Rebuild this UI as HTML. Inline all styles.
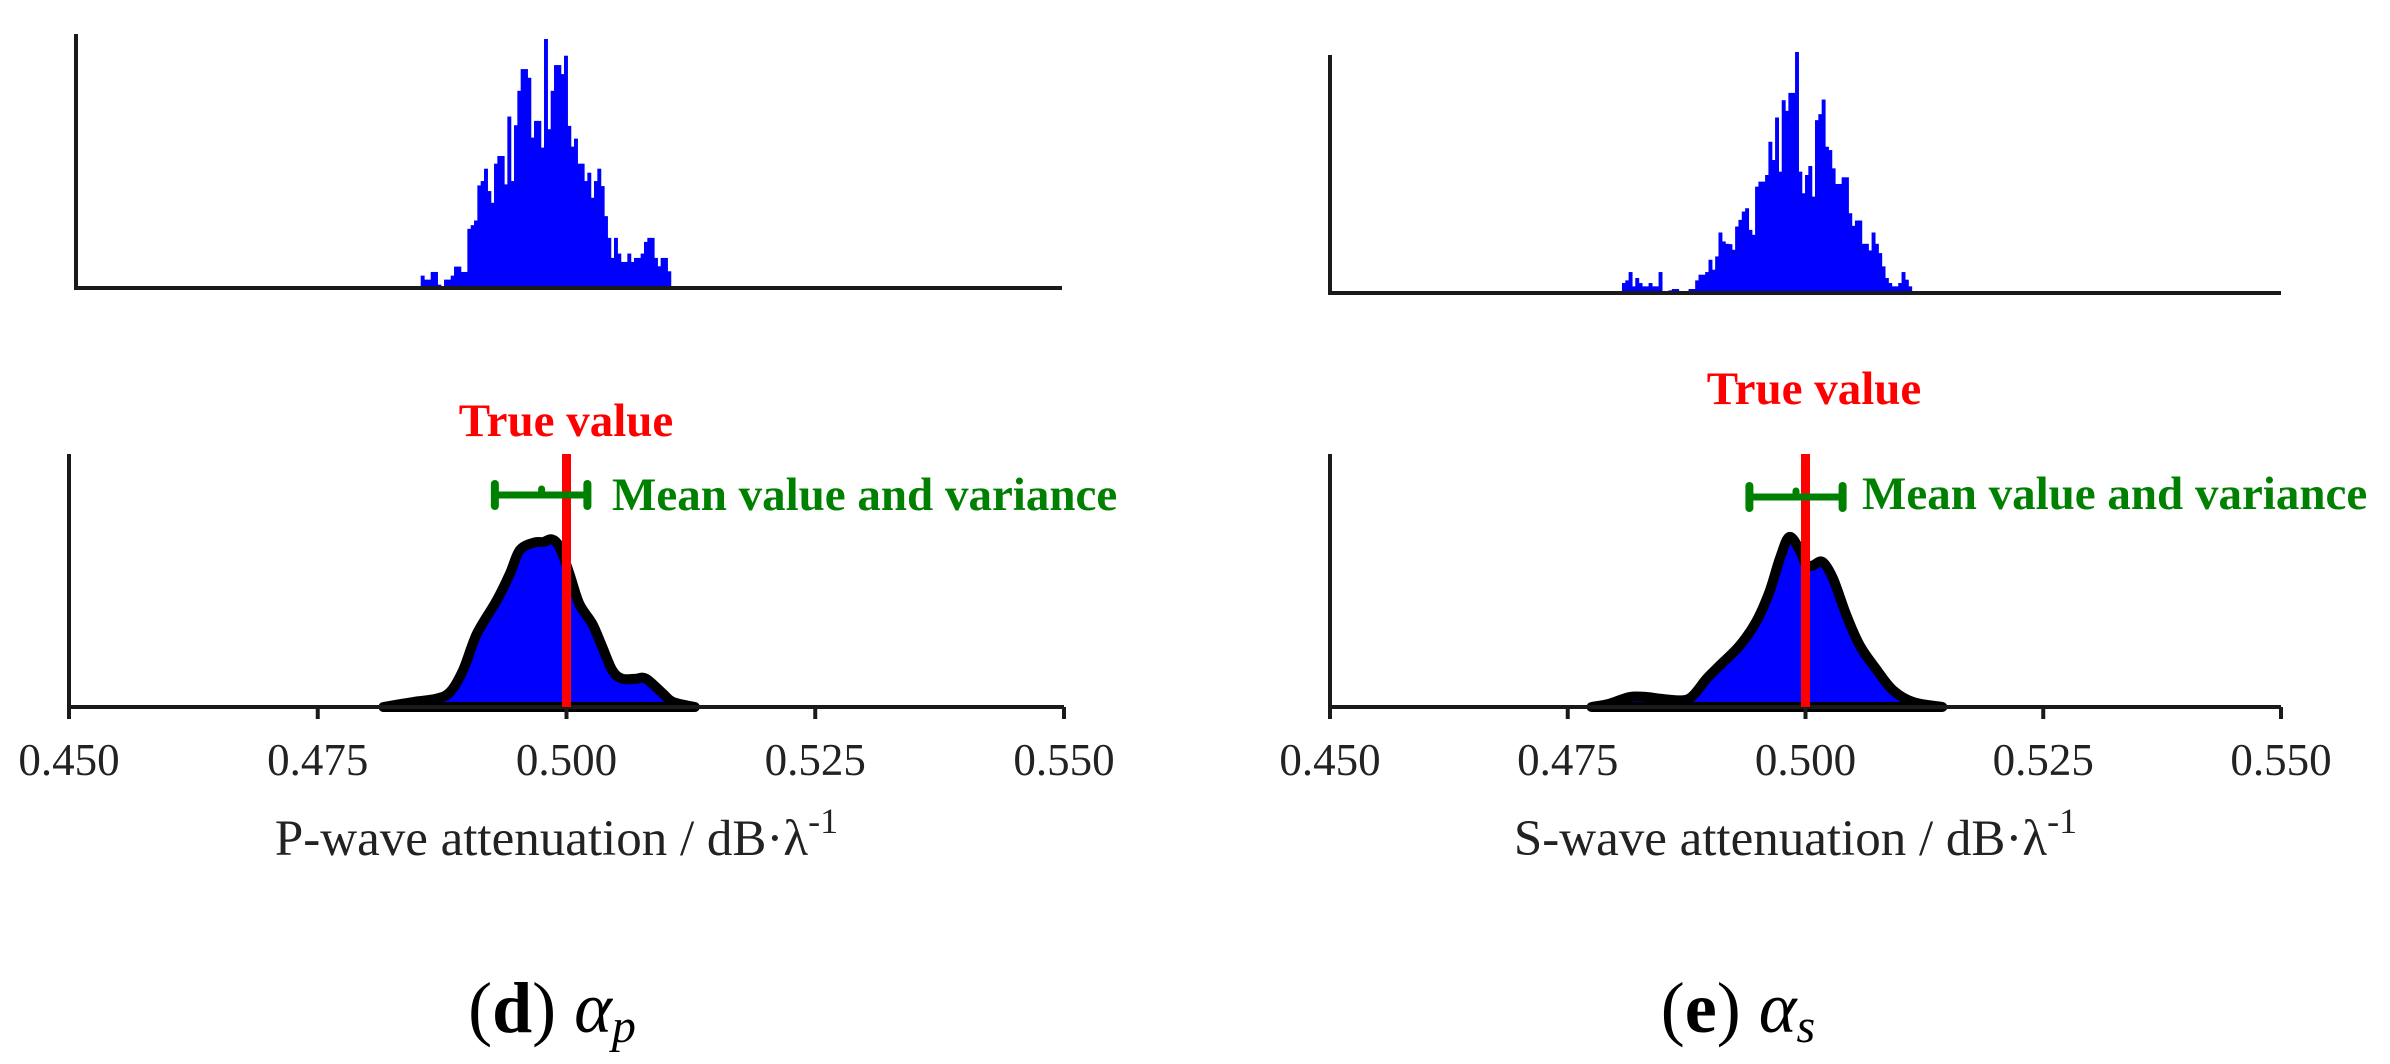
<!DOCTYPE html>
<html><head><meta charset="utf-8"><style>
html,body{margin:0;padding:0;background:#fff;}
svg{display:block;}
text{font-family:"Liberation Serif",serif;}
</style></head>
<body>
<svg id="fig" width="2390" height="1064" viewBox="0 0 2390 1064" xmlns="http://www.w3.org/2000/svg"></svg>
<script>
// ---- data ----
const xTicks = [0.450, 0.475, 0.500, 0.525, 0.550];
const xTickLabels = ["0.450", "0.475", "0.500", "0.525", "0.550"];
const histPStart = 0.48496;
const histPBinWidth = 0.000338;
const histPCounts = [37,25,25,48,48,10,3,25,25,37,64,64,48,48,177,188,202,307,320,357,290,255,372,395,395,310,513,320,487,590,655,655,629,450,500,500,420,745,475,590,667,667,640,695,485,423,447,372,372,320,345,270,320,357,305,215,150,90,150,103,78,78,103,78,90,90,103,138,150,150,90,65,90,90,50];
const histSStart = 0.4807;
const histSBinWidth = 0.00035;
const histSCounts = [30,38,63,20,45,30,20,20,30,20,20,63,5,5,8,12,12,5,5,5,12,12,38,55,55,63,100,70,110,182,155,148,147,130,200,220,245,255,190,175,320,335,335,355,455,400,528,365,580,548,602,602,725,365,300,355,382,290,520,538,582,440,430,375,328,328,348,348,240,202,218,218,148,148,128,182,148,120,80,45,30,20,20,30,63,40,20];
const densPX = [0.4816,0.4846,0.4869,0.4883,0.4896,0.4910,0.4930,0.4943,0.4953,0.4967,0.4977,0.4985,0.4993,0.5003,0.5013,0.5026,0.5036,0.5046,0.5056,0.5070,0.5080,0.5097,0.5107,0.5129];
const densPY = [0,5,8.3,15,36.7,73.3,106.7,133,156.7,164.3,165,167.7,160,133,103,83,60,36.7,28.3,28.3,28.3,13.3,5,0];
const densSX = [0.4775,0.4794,0.4815,0.4833,0.4847,0.4871,0.4882,0.4896,0.4910,0.4931,0.4948,0.4962,0.4973,0.4983,0.4994,0.5001,0.5008,0.5018,0.5029,0.5043,0.5057,0.5074,0.5092,0.5113,0.5144];
const densSY = [0,3.3,10,10,8.3,6.7,11.7,28.3,41.7,61.7,85,115,148.3,170,156.7,141.7,141.7,145,128.3,91.7,61.7,38.3,16.7,5,0];
const trueValues = [0.500, 0.500];
const meanValues = [0.4975, 0.4990];
const errLow = [0.4928, 0.4941];
const errHigh = [0.5021, 0.5039];

// ---- drawing ----
const NS = "http://www.w3.org/2000/svg";
const svg = document.getElementById("fig");
function mk(tag, attrs, parent) {
  const e = document.createElementNS(NS, tag);
  for (const k in attrs) e.setAttribute(k, attrs[k]);
  (parent || svg).appendChild(e);
  return e;
}
function linScale(d0, d1, r0, r1) { return v => r0 + (v - d0) / (d1 - d0) * (r1 - r0); }

function smoothPath(pts) {
  let d = "M" + pts[0][0].toFixed(1) + " " + pts[0][1].toFixed(1);
  for (let i = 0; i < pts.length - 1; i++) {
    const p0 = pts[Math.max(0, i - 1)], p1 = pts[i], p2 = pts[i + 1], p3 = pts[Math.min(pts.length - 1, i + 2)];
    const c1x = p1[0] + (p2[0] - p0[0]) / 6, c1y = p1[1] + (p2[1] - p0[1]) / 6;
    const c2x = p2[0] - (p3[0] - p1[0]) / 6, c2y = p2[1] - (p3[1] - p1[1]) / 6;
    d += " C" + c1x.toFixed(1) + " " + c1y.toFixed(1) + " " + c2x.toFixed(1) + " " + c2y.toFixed(1) + " " + p2[0].toFixed(1) + " " + p2[1].toFixed(1);
  }
  return d;
}

function drawHist(g, L, R, T, B, yMax, start, w, counts, name) {
  const sx = linScale(0.45, 0.55, L, R);
  const sy = linScale(0, yMax, B, T);
  counts.forEach((c, i) => {
    const x0 = sx(start + i * w), x1 = sx(start + (i + 1) * w);
    const r = mk("rect", {x: x0, y: sy(c), width: x1 - x0 + 0.6, height: B - sy(c), fill: "#0000ff"}, g);
    
    
  });
  const ya = mk("line", {x1: L, y1: T, x2: L, y2: B + 2, stroke: "#1a1a1a", "stroke-width": 4}, g);
  
  
  const xa = mk("line", {x1: L, y1: B, x2: R, y2: B, stroke: "#1a1a1a", "stroke-width": 4}, g);
  
  
}

function drawDensity(g, L, R, T, B, xs, ys, tv, mv, lo, hi, ev, tvText, legX, legY, tvTx, tvTy, xTitle, capText, capSub, capX, name) {
  const sx = linScale(0.45, 0.55, L, R);
  const sy = linScale(0, 253, B, T);
  const pts = xs.map((x, i) => [sx(x), sy(ys[i])]);
  const area = mk("path", {d: smoothPath(pts) + " Z", fill: "#0000ff", stroke: "#000", "stroke-width": 10, "stroke-linejoin": "round", "stroke-linecap": "round"}, g);
  
  
  const ya = mk("line", {x1: L, y1: T, x2: L, y2: B + 12, stroke: "#1a1a1a", "stroke-width": 4}, g);
  
  
  const xa = mk("line", {x1: L, y1: B, x2: R, y2: B, stroke: "#1a1a1a", "stroke-width": 4}, g);
  
  
  xTicks.forEach((t, i) => {
    const tk = mk("line", {x1: sx(t), y1: B, x2: sx(t), y2: B + 12, stroke: "#1a1a1a", "stroke-width": 4}, g);
    
    
    const tl = mk("text", {x: sx(t), y: B + 68, "text-anchor": "middle", "font-size": 45, fill: "#222"}, g);
    tl.textContent = xTickLabels[i];
    
    
  });
  const tl = mk("line", {x1: sx(tv), y1: T, x2: sx(tv), y2: B, stroke: "#ff0000", "stroke-width": 9}, g);
  
  
  const tt = mk("text", {x: tvTx, y: tvTy, "text-anchor": "middle", "font-size": 47, "font-weight": "bold", fill: "#ff0000"}, g);
  tt.textContent = tvText;
  
  
  const eg = mk("g", {stroke: "#008000", "stroke-linecap": "round"}, g);
  
  
  mk("line", {x1: sx(lo), y1: ev, x2: sx(hi), y2: ev, "stroke-width": 7}, eg);
  mk("line", {x1: sx(lo), y1: ev - 11, x2: sx(lo), y2: ev + 11, "stroke-width": 8}, eg);
  mk("line", {x1: sx(hi), y1: ev - 11, x2: sx(hi), y2: ev + 11, "stroke-width": 8}, eg);
  mk("line", {x1: sx(mv), y1: ev - 6, x2: sx(mv), y2: ev, "stroke-width": 7}, eg);
  const lt = mk("text", {x: legX, y: legY, "font-size": 47, "font-weight": "bold", fill: "#008000"}, g);
  lt.textContent = "Mean value and variance";
  
  
  const xt = mk("text", {x: (L + R) / 2 - 10, y: B + 148, "text-anchor": "middle", "font-size": 51, fill: "#222"}, g);
  
  
  xt.appendChild(document.createTextNode(xTitle));
  const sup = mk("tspan", {dy: -22, "font-size": 36}, xt);
  sup.textContent = "-1";
  const cap = mk("text", {x: capX, y: 1032, "text-anchor": "middle", "font-size": 72, fill: "#000"}, g);
  
  
  cap.appendChild(document.createTextNode("("));
  const b = mk("tspan", {"font-weight": "bold"}, cap); b.textContent = capText;
  cap.appendChild(document.createTextNode(") "));
  const a = mk("tspan", {"font-style": "italic"}, cap); a.textContent = "α";
  const s = mk("tspan", {"font-style": "italic", "font-size": 48, dy: 10}, cap); s.textContent = capSub;
}

const gL = mk("g", {});  
const gR = mk("g", {});  

drawHist(gL, 76, 1062, 34, 288, 760, histPStart, histPBinWidth, histPCounts, 'p-histogram');
drawHist(gR, 1330, 2281, 55, 293, 716, histSStart, histSBinWidth, histSCounts, 's-histogram');

drawDensity(gL, 69, 1064, 454, 707, densPX, densPY, trueValues[0], meanValues[0], errLow[0], errHigh[0], 495,
  "True value", 612, 510, 566, 436, "P-wave attenuation / dB·λ", "d", "p", 552, 'p-density');
drawDensity(gR, 1330, 2281, 454, 707, densSX, densSY, trueValues[1], meanValues[1], errLow[1], errHigh[1], 497,
  "True value", 1862, 509, 1814, 404, "S-wave attenuation / dB·λ", "e", "s", 1738, 's-density');
</script>
</body></html>
